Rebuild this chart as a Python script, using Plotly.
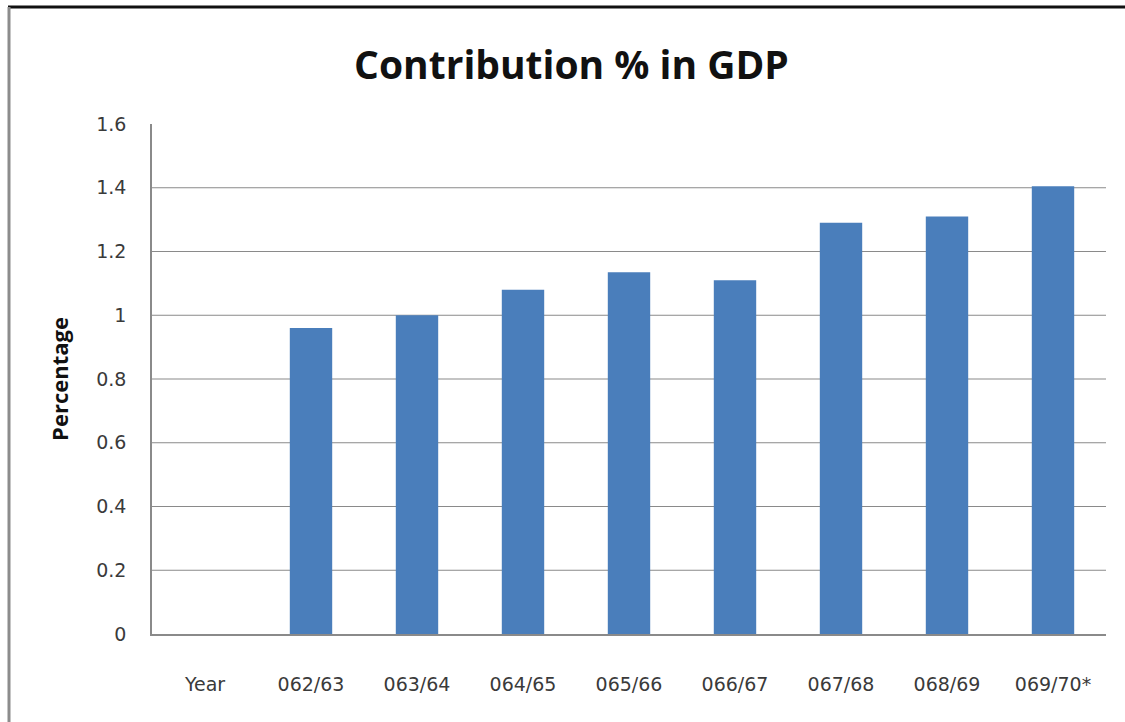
import plotly.graph_objects as go

categories = ["Year", "062/63", "063/64", "064/65", "065/66", "066/67", "067/68", "068/69", "069/70*"]
values = [None, 0.96, 1.00, 1.08, 1.135, 1.11, 1.29, 1.31, 1.405]
y_ticks = [0, 0.2, 0.4, 0.6, 0.8, 1, 1.2, 1.4, 1.6]
y_tick_text = ["0", "0.2", "0.4", "0.6", "0.8", "1", "1.2", "1.4", "1.6"]

W, H = 1125, 722
ML, MR, MT, MB = 152, 19, 124, 88
pw, ph = W - ML - MR, H - MT - MB

def px_x(p):
    return (p - ML) / pw

def px_y(p):
    return (H - MB - p) / ph

fig = go.Figure()
fig.add_trace(go.Bar(x=categories, y=values, marker=dict(color="#4A7EBB", line=dict(width=0)),
                     hoverinfo="x+y"))

shapes = []
for t in y_ticks[1:-1]:
    shapes.append(dict(type="line", xref="paper", yref="y", x0=0, x1=1, y0=t, y1=t,
                       line=dict(color="#8A8A8A", width=1.2), layer="below"))
shapes.append(dict(type="line", xref="paper", yref="paper", x0=px_x(8), x1=px_x(1125),
                   y0=px_y(7), y1=px_y(7), line=dict(color="#111111", width=3)))
shapes.append(dict(type="line", xref="paper", yref="paper", x0=px_x(9), x1=px_x(9),
                   y0=px_y(7), y1=px_y(722), line=dict(color="#8C8C8C", width=3)))

tick_font = dict(family="DejaVu Sans, sans-serif", size=19, color="#3A3A3A")

fig.update_layout(
    width=W, height=H,
    margin=dict(l=ML, r=MR, t=MT, b=MB),
    paper_bgcolor="white", plot_bgcolor="white",
    bargap=0.6,
    showlegend=False,
    title=dict(text="<b>Contribution % in GDP</b>", x=0.508, xanchor="center",
               y=1 - 65 / H, yanchor="middle",
               font=dict(family="Open Sans, Liberation Sans, sans-serif", size=39, color="#111111")),
    shapes=shapes,
    xaxis=dict(showgrid=False, showline=True, linecolor="#8A8A8A", linewidth=1.5,
               ticks="", ticklabelstandoff=32, tickfont=tick_font, fixedrange=True),
    yaxis=dict(range=[0, 1.6], tickvals=y_ticks, ticktext=y_tick_text, showgrid=False,
               zeroline=False, showline=True, linecolor="#8A8A8A", linewidth=1.5,
               ticks="", ticklabelstandoff=20, tickfont=tick_font,
               title=dict(text="<b>Percentage</b>", standoff=22,
                          font=dict(family="Open Sans, Liberation Sans, sans-serif", size=22, color="#111111")),
               fixedrange=True),
)

fig.write_html("out.html", config={"displayModeBar": False},
               post_script="document.body.style.margin='0';document.body.style.overflow='hidden';")
